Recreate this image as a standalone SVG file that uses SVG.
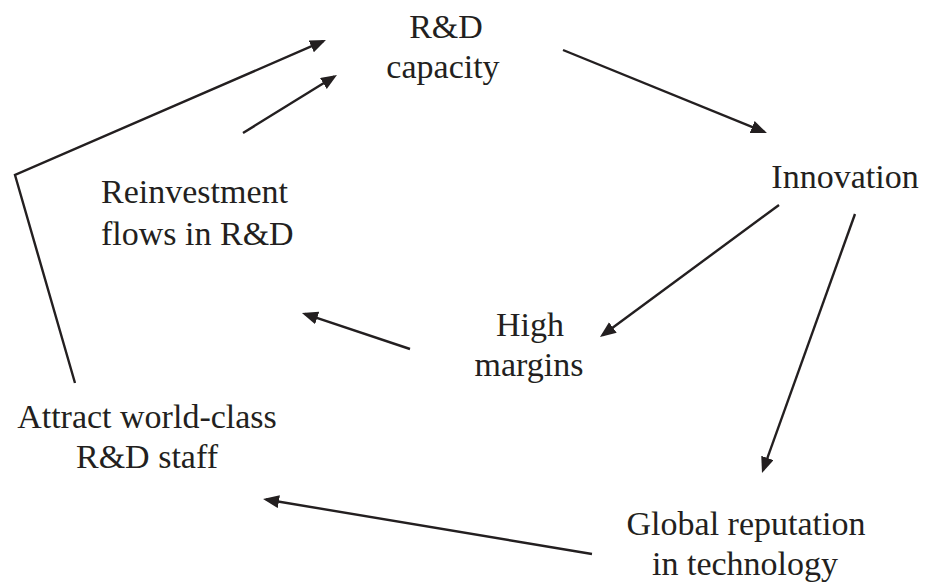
<svg xmlns="http://www.w3.org/2000/svg" width="927" height="582" viewBox="0 0 927 582">
  <style>
    text { font-family: 'Liberation Serif', 'Noto Serif', 'Noto Serif CJK SC', 'Noto Serif CJK JP', 'FreeSerif', 'Nimbus Roman No9 L', 'DejaVu Serif', serif; font-size: 34px; fill: #231f20; }
    .mid { text-anchor: middle; }
    .edge { fill: none; stroke: #231f20; stroke-width: 2.4; }
  </style>
  <defs>
    <marker id="arrow" markerUnits="userSpaceOnUse" markerWidth="18" markerHeight="14" refX="13" refY="6.5" orient="auto">
      <path d="M0,0 L16,6.5 L0,13 Z" fill="#231f20"/>
    </marker>
  </defs>
  <rect width="927" height="582" fill="#ffffff"/>

  <g id="connectors">
    <polyline class="edge" points="75,383 15,175 323.2,41.2" marker-end="url(#arrow)"/>
    <line class="edge" x1="243" y1="133" x2="334.4" y2="76.6" marker-end="url(#arrow)"/>
    <line class="edge" x1="563" y1="50" x2="764.2" y2="131.9" marker-end="url(#arrow)"/>
    <line class="edge" x1="779" y1="205" x2="602.4" y2="335.2" marker-end="url(#arrow)"/>
    <line class="edge" x1="855" y1="214" x2="763" y2="470.2" marker-end="url(#arrow)"/>
    <line class="edge" x1="410" y1="349" x2="304.8" y2="313.9" marker-end="url(#arrow)"/>
    <line class="edge" x1="592" y1="554" x2="266" y2="499.5" marker-end="url(#arrow)"/>
  </g>

  <g id="rd-capacity">
    <text class="mid" x="446" y="38">R&amp;D</text>
    <text class="mid" x="443" y="78">capacity</text>
  </g>
  <g id="innovation">
    <text class="mid" x="845" y="188">Innovation</text>
  </g>
  <g id="reinvestment">
    <text x="101" y="203">Reinvestment</text>
    <text x="101" y="245">flows in R&amp;D</text>
  </g>
  <g id="high-margins">
    <text class="mid" x="530" y="336">High</text>
    <text class="mid" x="529" y="376">margins</text>
  </g>
  <g id="attract-staff">
    <text class="mid" x="147" y="428">Attract world-class</text>
    <text class="mid" x="147" y="468">R&amp;D staff</text>
  </g>
  <g id="global-reputation">
    <text class="mid" x="746" y="535">Global reputation</text>
    <text class="mid" x="745" y="575">in technology</text>
  </g>
</svg>
